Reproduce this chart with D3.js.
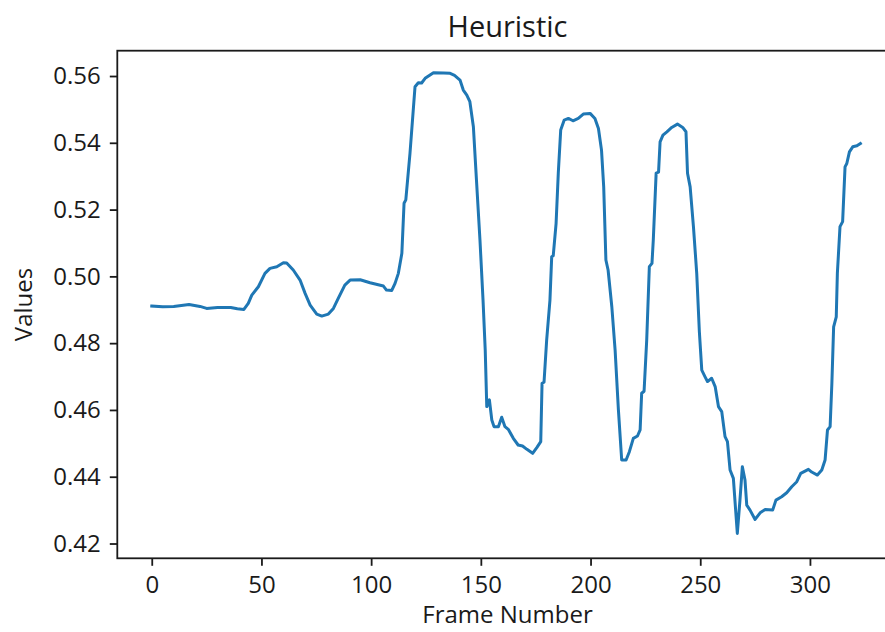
<!DOCTYPE html>
<html>
<head>
<meta charset="utf-8">
<script src="https://cdn.jsdelivr.net/npm/d3@7"></script>
<style>
  html, body { margin: 0; padding: 0; background: #fff; }
  svg { display: block; font-family: "Open Sans", "Noto Sans", sans-serif; }
</style>
</head>
<body>
<svg id="chart" width="885" height="632"></svg>
<script>
// Heuristic value per frame
const frames = [0, 5, 10, 17, 22, 25, 30, 36, 39, 42, 44, 45.6, 48.6, 51.6, 53.9, 57, 60, 61.5, 64.5, 67.6, 69.9, 72.2, 75.2, 77.5, 80.5, 82.8, 85, 88, 90.4, 95, 99.5, 105.6, 107, 109.4, 110.9, 112.4, 114, 115, 115.8, 117.7, 120, 121.5, 123, 124.6, 128.4, 133, 136, 138, 140.5, 142, 143.6, 145, 146.6, 148, 149.6, 151, 152, 152.7, 153.9, 155, 156, 158, 159.5, 161, 162.5, 164.8, 167, 169, 171, 173.6, 175.5, 177.3, 177.9, 178.8, 180, 181.5, 182.3, 183, 184.3, 185.3, 186.4, 188, 189.9, 192, 194.4, 196.7, 199.8, 202, 203.6, 205, 206, 207, 208, 209.7, 211.2, 212.7, 214.2, 216.2, 217.7, 219.5, 221.4, 222.6, 223.3, 224.4, 225.6, 226.8, 228, 228.6, 229.9, 231, 231.7, 233, 234.8, 237, 239.6, 242, 243.5, 244.2, 245.4, 246.9, 248.4, 249.6, 250.7, 252.2, 253.3, 255.2, 256.8, 258.3, 259.8, 261.3, 262.4, 263.6, 265.1, 266.9, 268.1, 269.2, 270.4, 271.2, 272.7, 275, 277.3, 279.6, 283, 284.5, 287.1, 289.4, 291.7, 294, 295.8, 299.3, 300.8, 303.4, 305.4, 306.9, 308, 309.2, 310, 310.8, 312, 312.5, 313.7, 314.9, 316, 316.8, 318, 319.5, 321.4, 323];
const values = [0.4911, 0.4909, 0.4910, 0.4916, 0.4910, 0.4904, 0.4907, 0.4907, 0.4903, 0.4901, 0.4919, 0.4944, 0.4969, 0.5009, 0.5024, 0.5029, 0.5041, 0.5040, 0.5019, 0.4989, 0.4949, 0.4914, 0.4887, 0.4881, 0.4887, 0.4904, 0.4934, 0.4974, 0.4989, 0.4990, 0.4981, 0.4971, 0.4959, 0.4958, 0.4979, 0.5009, 0.5069, 0.5219, 0.5229, 0.5368, 0.5568, 0.5580, 0.5579, 0.5593, 0.5610, 0.5609, 0.5608, 0.5602, 0.5588, 0.5558, 0.5543, 0.5523, 0.5448, 0.5289, 0.5109, 0.4929, 0.4779, 0.4610, 0.4630, 0.4570, 0.4550, 0.4550, 0.4578, 0.4550, 0.4542, 0.4515, 0.4495, 0.4492, 0.4482, 0.4470, 0.4487, 0.4505, 0.4680, 0.4683, 0.4809, 0.4929, 0.5059, 0.5062, 0.5159, 0.5309, 0.5438, 0.5468, 0.5473, 0.5466, 0.5473, 0.5486, 0.5488, 0.5473, 0.5443, 0.5378, 0.5268, 0.5049, 0.5019, 0.4909, 0.4779, 0.4600, 0.4450, 0.4450, 0.4475, 0.4515, 0.4522, 0.4540, 0.4650, 0.4656, 0.4809, 0.5029, 0.5039, 0.5109, 0.5309, 0.5312, 0.5403, 0.5423, 0.5433, 0.5446, 0.5456, 0.5446, 0.5433, 0.5309, 0.5268, 0.5149, 0.5009, 0.4834, 0.4719, 0.4699, 0.4685, 0.4695, 0.4670, 0.4610, 0.4595, 0.4520, 0.4505, 0.4420, 0.4395, 0.4230, 0.4330, 0.4430, 0.4390, 0.4315, 0.4300, 0.4272, 0.4292, 0.4302, 0.4300, 0.4330, 0.4340, 0.4352, 0.4370, 0.4385, 0.4410, 0.4422, 0.4414, 0.4405, 0.4420, 0.4450, 0.4540, 0.4550, 0.4680, 0.4849, 0.4879, 0.5009, 0.5149, 0.5164, 0.5328, 0.5338, 0.5373, 0.5388, 0.5391, 0.5398];

const xTicks = [0, 50, 100, 150, 200, 250, 300];
const yTicks = [0.42, 0.44, 0.46, 0.48, 0.50, 0.52, 0.54, 0.56];

const titleText = "Heuristic";
const xLabel = "Frame Number";
const yLabel = "Values";

const svg = d3.select("#chart");
const inkColor = "#1a1a1a";

const plot = { left: 117.3, right: 897.7, top: 50.7, bottom: 558.3 };

const x = d3.scaleLinear().domain([-15.7, 340]).range([plot.left, plot.right]);
const y = d3.scaleLinear().domain([0.41557, 0.56758]).range([plot.bottom, plot.top]);

// data line
const line = d3.line().x((d, i) => x(frames[i])).y(d => y(d));
svg.append("path")
  .datum(values)
  .attr("d", line)
  .attr("fill", "none")
  .attr("stroke", "#1f77b4")
  .attr("stroke-width", 3)
  .attr("stroke-linejoin", "round")
  .attr("stroke-linecap", "square");

// axes
const xAxis = d3.axisBottom(x).tickValues(xTicks).tickFormat(d3.format("d"))
  .tickSize(7.5).tickPadding(10.5).tickSizeOuter(0);
const yAxis = d3.axisLeft(y).tickValues(yTicks).tickFormat(d3.format(".2f"))
  .tickSize(7.5).tickPadding(9).tickSizeOuter(0);

const gx = svg.append("g").attr("transform", `translate(0,${plot.bottom})`).call(xAxis);
const gy = svg.append("g").attr("transform", `translate(${plot.left},0)`).call(yAxis);

[gx, gy].forEach(g => {
  g.select(".domain").remove();
  g.selectAll(".tick line").attr("stroke", inkColor).attr("stroke-width", 1.8);
  g.selectAll(".tick text").attr("fill", inkColor).style("font-size", "24px")
    .style("font-family", "'Open Sans', 'Noto Sans', sans-serif");
});

// spines
svg.append("rect")
  .attr("x", plot.left).attr("y", plot.top)
  .attr("width", plot.right - plot.left).attr("height", plot.bottom - plot.top)
  .attr("fill", "none").attr("stroke", inkColor).attr("stroke-width", 1.8);

const cx = (plot.left + plot.right) / 2;

svg.append("text")
  .attr("x", cx).attr("y", 37.3)
  .attr("text-anchor", "middle")
  .attr("fill", inkColor)
  .style("font-size", "29px")
  .text(titleText);

svg.append("text")
  .attr("x", cx).attr("y", 623.3)
  .attr("text-anchor", "middle")
  .attr("fill", inkColor)
  .style("font-size", "24px")
  .text(xLabel);

svg.append("text")
  .attr("transform", `translate(32.3,${(plot.top + plot.bottom) / 2}) rotate(-90)`)
  .attr("text-anchor", "middle")
  .attr("fill", inkColor)
  .style("font-size", "24px")
  .text(yLabel);
</script>
</body>
</html>
